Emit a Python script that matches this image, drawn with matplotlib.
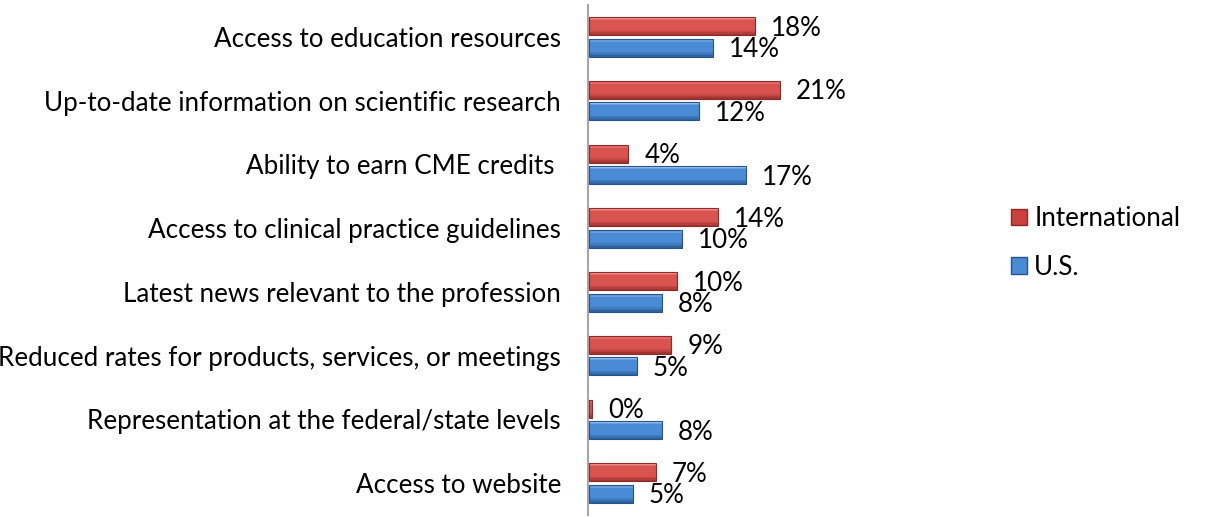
import matplotlib
matplotlib.use("Agg")
import matplotlib.pyplot as plt
import numpy as np
from matplotlib.colors import to_rgb
from matplotlib.patches import Patch

categories = [
    "Access to education resources",
    "Up-to-date information on scientific research",
    "Ability to earn CME credits ",
    "Access to clinical practice guidelines",
    "Latest news relevant to the profession",
    "Reduced rates for products, services, or meetings",
    "Representation at the federal/state levels",
    "Access to website",
]
international = [18.2, 20.9, 4.3, 14.1, 9.6, 9.0, 0.3, 7.3]
us = [13.6, 12.0, 17.2, 10.2, 8.0, 5.2, 8.0, 4.8]
series_names = ["International", "U.S."]

plt.rcParams['font.family'] = ['Lato', 'DejaVu Sans']
FS = 18.7

W, H = 1222, 517
fig = plt.figure(figsize=(W / 100, H / 100), dpi=100)
ax_left = 588 / W
ax_w = 273 / W
ax = fig.add_axes([ax_left, 1 - 515 / H, ax_w, (515 - 5) / H])
ax.set_xlim(0, 30)
n = len(categories)
y = np.arange(n)
ax.set_ylim(n - 0.5, -0.5)

bar_h = 0.285
off = 0.168


def lerp(c1, c2, t):
    a, b = np.array(to_rgb(c1)), np.array(to_rgb(c2))
    return tuple(a + (b - a) * t)


def gradient_bars(ypos, vals, light, mid, dark, edge):
    k = 12
    sh = bar_h / k
    top = ypos - bar_h / 2
    for i in range(k):
        t = (i + 0.5) / k
        if t < 0.18:
            c = lerp(light, mid, t / 0.18)
        elif t < 0.7:
            c = mid
        else:
            c = lerp(mid, dark, (t - 0.7) / 0.3)
        ax.barh(top + sh * (i + 0.5), vals, height=sh, color=c,
                linewidth=0, left=0.15, zorder=3)
    ax.barh(ypos, vals, height=bar_h, left=0.15, facecolor='none',
            edgecolor=edge, linewidth=0.8, zorder=4)


gradient_bars(y - off, international, '#F4A3A1', '#D9534F', '#9C2F2C', '#8B2A28')
gradient_bars(y + off, us, '#A9CDF4', '#4A8BD6', '#2B5C97', '#27528A')

for yi, v in zip(y - off, international):
    ax.annotate(f"{round(v):d}%", (v + 0.15, yi), xytext=(16, -2),
                textcoords='offset pixels', ha='left', va='center',
                fontsize=FS, color='black', annotation_clip=False)
for yi, v in zip(y + off, us):
    ax.annotate(f"{round(v):d}%", (v + 0.15, yi), xytext=(16, -2),
                textcoords='offset pixels', ha='left', va='center',
                fontsize=FS, color='black', annotation_clip=False)

ax.set_yticks(y)
ax.set_yticklabels(categories, fontsize=FS)
ax.tick_params(axis='y', length=0, pad=19.5)
ax.set_xticks([])
for s in ['top', 'right', 'bottom']:
    ax.spines[s].set_visible(False)
ax.spines['left'].set_color('#A6A6A6')
ax.spines['left'].set_linewidth(1.5)

# legend
handles = [Patch(facecolor='#C9403C', edgecolor='#8B2A28'),
           Patch(facecolor='#4A8BD6', edgecolor='#27528A')]
leg = fig.legend(handles, series_names, loc='center left',
                 bbox_to_anchor=(998 / W, 1 - 243 / H), frameon=False,
                 fontsize=FS, handlelength=0.6, handleheight=0.6,
                 handletextpad=0.3, labelspacing=0.9, borderpad=0)

fig.savefig("out.png", dpi=100)
